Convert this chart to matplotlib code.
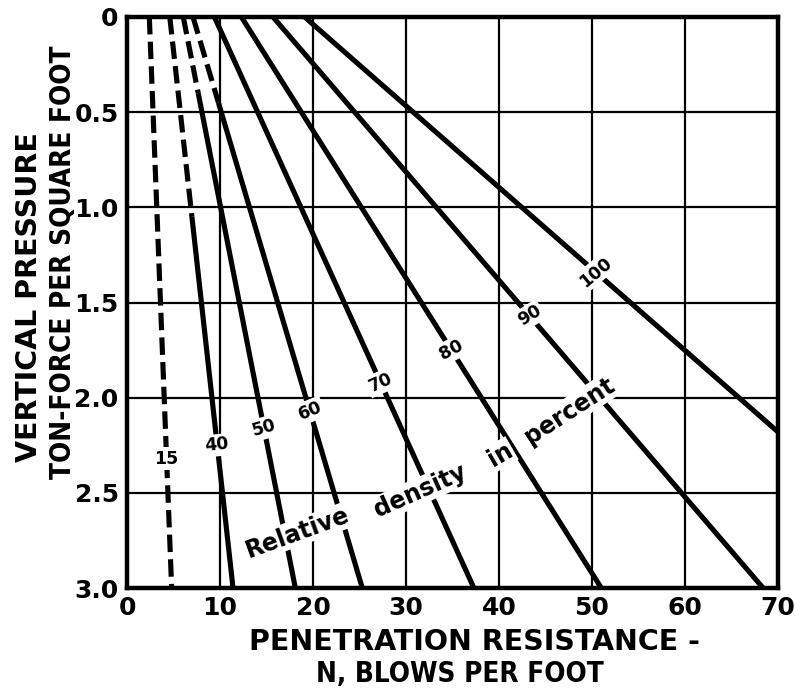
import numpy as np
import matplotlib
matplotlib.use("Agg")
import matplotlib.pyplot as plt

plt.rcParams["font.family"] = ["DejaVu Sans"]
plt.rcParams["font.weight"] = "bold"

# Relative density curves: blow count N at zero pressure and at the end of each curve
relative_density = [15, 40, 50, 60, 70, 80, 90, 100]
n_at_top = [2.4, 4.6, 6.05, 7.1, 9.4, 12.3, 15.7, 19.1]
n_at_end = [4.8, 11.4, 18.1, 25.3, 37.3, 51.0, 68.4, 70.0]
p_at_end = [3.0, 3.0, 3.0, 3.0, 3.0, 3.0, 3.0, 2.18]
# pressure down to which each curve is drawn dashed
dashed_until = [3.0, 1.05, 0.40, 0.45, 0.0, 0.0, 0.0, 0.0]
# where the percentage labels sit (pressure) and their tilt
label_p = [2.32, 2.25, 2.16, 2.07, 1.92, 1.75, 1.57, 1.34]
label_rot = [0, 6, 16, 22, 24, 28, 32, 40]

x_ticks = [0, 10, 20, 30, 40, 50, 60, 70]
y_ticks = [0, 0.5, 1.0, 1.5, 2.0, 2.5, 3.0]
y_tick_labels = ["0", "0.5", "1.0", "1.5", "2.0", "2.5", "3.0"]

caption_words = ["Relative", "density", "in", "percent"]
caption_n = [18.3, 31.5, 40.1, 47.6]
caption_p = [2.71, 2.49, 2.30, 2.07]
caption_rot = [20, 24, 30, 33]

fig = plt.figure(figsize=(7.95, 6.89), dpi=100)
ax = fig.add_axes([127 / 795, 1 - 588 / 689, (778 - 127) / 795, (588 - 17) / 689])

ax.set_xlim(0, 70)
ax.set_ylim(3.0, 0)
ax.set_xticks(x_ticks)
ax.set_yticks(y_ticks)
ax.set_yticklabels(y_tick_labels)
ax.tick_params(length=0, pad=6, labelsize=18)
for lab in ax.get_xticklabels() + ax.get_yticklabels():
    lab.set_fontweight("bold")
ax.grid(True, color="black", linewidth=1.6, zorder=1)
ax.set_axisbelow(True)
for s in ax.spines.values():
    s.set_linewidth(3.2)
    s.set_zorder(5)

lw = 3.7
for d, n0, n1, p1, pd, lp, rot in zip(relative_density, n_at_top, n_at_end,
                                       p_at_end, dashed_until, label_p, label_rot):
    p = [0.0, p1]
    n = [n0, n1]
    if pd > 0:
        pd_end = min(pd, p1)
        ax.plot([n0, np.interp(pd_end, p, n)], [0.0, pd_end], color="black", lw=lw,
                linestyle=(0, (3.4, 1.4)), zorder=3)
    if pd < p1:
        ax.plot([np.interp(pd, p, n), n1], [pd, p1], color="black", lw=lw,
                solid_capstyle="butt", zorder=3)
    ax.text(np.interp(lp, p, n), lp, str(d), rotation=rot, ha="center", va="center",
            fontsize=12.5, fontweight="bold", zorder=4,
            bbox=dict(facecolor="white", edgecolor="none", pad=1.5))

for w, cn, cp, cr in zip(caption_words, caption_n, caption_p, caption_rot):
    ax.text(cn, cp, w, rotation=cr, ha="center", va="center", fontsize=17,
            fontweight="bold", zorder=4,
            bbox=dict(facecolor="white", edgecolor="none", pad=1.0))

title_kw = dict(fontweight="bold", ha="center", va="center")
fig.text(474 / 795, 1 - 642 / 689, "PENETRATION RESISTANCE -", fontsize=20.5, **title_kw)
fig.text(460 / 795, 1 - 674 / 689, "N, BLOWS PER FOOT", fontsize=20,
         fontstretch="condensed", **title_kw)
fig.text(29 / 795, 1 - 297 / 689, "VERTICAL PRESSURE", rotation=90, fontsize=20.5,
         **title_kw)
fig.text(63 / 795, 1 - 262 / 689, "TON-FORCE PER SQUARE FOOT", rotation=90, fontsize=20,
         fontstretch="condensed", **title_kw)

fig.savefig("out.png", dpi=100)
